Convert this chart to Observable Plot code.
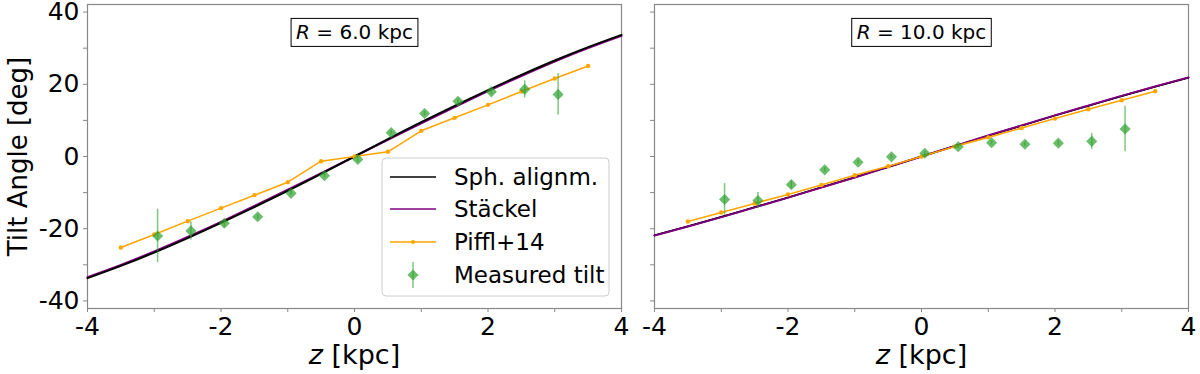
<!DOCTYPE html>
<html>
<head>
<meta charset="utf-8">
<script src="https://cdn.jsdelivr.net/npm/d3@7"></script>
<script src="https://cdn.jsdelivr.net/npm/@observablehq/plot@0.6"></script>
<style>
  html, body { margin: 0; padding: 0; background: white; }
  #wrap { position: relative; width: 1200px; height: 374px; overflow: hidden; }
  #wrap svg { position: absolute; top: 0; }
</style>
</head>
<body>
<div id="wrap"></div>
<script>
// ---------- data ----------
const panelTitles = ["R = 6.0 kpc", "R = 10.0 kpc"];
const seriesNames = ["Sph. alignm.", "Stäckel", "Piffl+14", "Measured tilt"];
const xLabel = "z [kpc]";
const yLabel = "Tilt Angle [deg]";

const xTicks = [-4, -3, -2, -1, 0, 1, 2, 3, 4];
const xTickLabels = ["-4", "", "-2", "", "0", "", "2", "", "4"];
const yTicks = [-40, -30, -20, -10, 0, 10, 20, 30, 40];
const yTickLabels = ["-40", "", "-20", "", "0", "", "20", "", "40"];

// model curves sampled every 0.5 kpc
const zCurve = [-4, -3.5, -3, -2.5, -2, -1.5, -1, -0.5, 0, 0.5, 1, 1.5, 2, 2.5, 3, 3.5, 4];
const sphR6 = [-33.7, -30.3, -26.6, -22.6, -18.4, -14.0, -9.5, -4.8, 0, 4.8, 9.5, 14.0, 18.4, 22.6, 26.6, 30.3, 33.7];
const stackelR6 = [-33.4, -30.0, -26.3, -22.3, -18.1, -13.7, -9.2, -4.6, 0, 4.6, 9.2, 13.7, 18.1, 22.3, 26.3, 30.0, 33.4];
const sphR10 = [-21.8, -19.3, -16.7, -14.0, -11.3, -8.5, -5.7, -2.9, 0, 2.9, 5.7, 8.5, 11.3, 14.0, 16.7, 19.3, 21.8];
const stackelR10 = [-21.9, -19.4, -16.8, -14.1, -11.4, -8.6, -5.8, -2.9, 0, 2.9, 5.8, 8.6, 11.4, 14.1, 16.8, 19.4, 21.9];

// Piffl+14
const zPiffl = [-3.5, -3, -2.5, -2, -1.5, -1, -0.5, 0, 0.5, 1, 1.5, 2, 2.5, 3, 3.5];
const pifflR6 = [-25.2, -21.6, -17.9, -14.3, -10.7, -7.1, -1.3, 0, 1.3, 7.1, 10.7, 14.3, 18.0, 21.6, 25.1];
const pifflR10 = [-18.0, -15.5, -13.0, -10.5, -7.9, -5.2, -2.7, 0, 2.8, 5.3, 7.9, 10.5, 13.1, 15.6, 18.1];

// measured tilt with errors
const zMeasured = [-2.95, -2.45, -1.95, -1.45, -0.95, -0.45, 0.05, 0.55, 1.05, 1.55, 2.05, 2.55, 3.05];
const tiltR6 = [-22.0, -20.6, -18.5, -16.7, -10.2, -5.3, -0.8, 6.6, 11.9, 15.3, 17.9, 18.6, 17.2];
const errR6 = [7.4, 2.5, 1.0, 0.6, 0.6, 0.6, 0.7, 0.6, 0.6, 0.6, 0.7, 2.4, 5.8];
const tiltR10 = [-11.9, -12.2, -7.8, -3.7, -1.6, -0.1, 0.9, 2.7, 3.8, 3.4, 3.7, 4.2, 7.6];
const errR10 = [4.4, 2.2, 1.0, 0.6, 0.5, 0.5, 0.5, 0.5, 0.6, 0.6, 0.7, 2.2, 6.3];

// ---------- styling ----------
const FONT = "DejaVu Sans";
const GREEN = "#2ca02c";
const ORANGE = "#ffa500";
const PURPLE = "#800080";
const FRAMEC = "#888888";

function makePanel(opts) {
  const curve = zCurve.map((z, i) => ({z, sph: opts.sph[i], st: opts.st[i]}));
  const piffl = zPiffl.map((z, i) => ({z, v: opts.piffl[i]}));
  const meas = zMeasured.map((z, i) => ({z, v: opts.tilt[i], e: opts.err[i]}));
  const marks = [
    Plot.frame({stroke: FRAMEC, strokeWidth: 1.2}),
    Plot.axisX({ticks: xTicks, tickFormat: d => xTickLabels[xTicks.indexOf(d)], tickSize: 4, tickPadding: 5,
      fontSize: 25, stroke: FRAMEC, fill: "black", label: null}),
    Plot.axisY({ticks: yTicks, tickFormat: d => opts.showY ? yTickLabels[yTicks.indexOf(d)] : "", tickSize: 4, tickPadding: 4,
      fontSize: 25, stroke: FRAMEC, fill: "black", label: null}),
    Plot.line(curve, {x: "z", y: "st", stroke: PURPLE, strokeWidth: 2, curve: "natural"}),
    Plot.line(curve, {x: "z", y: "sph", stroke: "black", strokeWidth: opts.showY ? 2 : 1.4, curve: "natural"}),
    ...(opts.showY ? [] : [Plot.line(curve, {x: "z", y: "st", stroke: PURPLE, strokeWidth: 1.6, curve: "natural"})]),
    Plot.line(piffl, {x: "z", y: "v", stroke: ORANGE, strokeWidth: 1.6}),
    Plot.dot(piffl, {x: "z", y: "v", fill: ORANGE, r: 2.2}),
    Plot.ruleX(meas, {x: "z", y1: d => d.v - d.e, y2: d => d.v + d.e, stroke: GREEN, strokeOpacity: 0.6, strokeWidth: 1.5}),
    Plot.dot(meas, {x: "z", y: "v", symbol: "diamond2", r: 5, fill: GREEN, fillOpacity: 0.7}),
    Plot.text([xLabel], {frameAnchor: "bottom", lineAnchor: "middle", dy: 47, fontSize: 27, fill: "black"}),
    Plot.text([opts.title], {frameAnchor: "top", lineAnchor: "middle", dy: 28.5, fontSize: 20, fill: "black"})
  ];
  if (opts.showY) {
    marks.push(Plot.text([yLabel], {frameAnchor: "left", textAnchor: "middle", rotate: -90, dx: -69, fontSize: 26, fill: "black"}));
  }
  return Plot.plot({
    width: opts.width, height: 374,
    marginLeft: opts.ml, marginRight: opts.mr, marginTop: 4, marginBottom: 66,
    x: {domain: [-4, 4]},
    y: {domain: [-42.1, 42.1]},
    style: {fontFamily: FONT, background: "white", overflow: "visible"},
    marks
  });
}

const wrap = document.getElementById("wrap");
const left = makePanel({width: 630, ml: 87, mr: 9, title: panelTitles[0], sph: sphR6, st: stackelR6,
  piffl: pifflR6, tilt: tiltR6, err: errR6, showY: true});
const right = makePanel({width: 570, ml: 24, mr: 12, title: panelTitles[1], sph: sphR10, st: stackelR10,
  piffl: pifflR10, tilt: tiltR10, err: errR10, showY: false});
left.style.left = "0px";
right.style.left = "630px";
wrap.appendChild(left);
wrap.appendChild(right);

// italic math symbols in labels, box around panel titles
function styleTexts(svg) {
  d3.select(svg).selectAll("text").each(function () {
    const t = this.textContent;
    const sel = d3.select(this);
    if (t === xLabel) {
      sel.text(null);
      sel.append("tspan").attr("font-style", "italic").text("z");
      sel.append("tspan").text(" [kpc]");
    } else if (panelTitles.includes(t)) {
      sel.text(null);
      sel.append("tspan").attr("font-style", "italic").text("R");
      sel.append("tspan").text(t.slice(1));
      const bb = this.getBBox();
      const ms = svg.getScreenCTM();
      const me = this.getScreenCTM();
      const rel = ms.inverse().multiply(me);
      const p = svg.createSVGPoint();
      p.x = bb.x; p.y = bb.y;
      const q = p.matrixTransform(rel);
      d3.select(svg).append("rect")
        .attr("x", q.x - 5).attr("y", q.y - 2)
        .attr("width", bb.width + 10).attr("height", bb.height + 4)
        .attr("fill", "none").attr("stroke", "black").attr("stroke-width", 1);
    }
  });
}
styleTexts(left);
styleTexts(right);

// legend inside the left panel
const lg = d3.select(left).append("g").attr("font-family", FONT).attr("font-size", 23).attr("text-anchor", "start");
lg.append("rect").attr("x", 382).attr("y", 158).attr("width", 227).attr("height", 138)
  .attr("rx", 4).attr("fill", "white").attr("fill-opacity", 0.85).attr("stroke", "#cccccc").attr("stroke-width", 1);
const rowsY = [177, 209, 242, 275];
const lx1 = 390, lx2 = 436, tx = 454;
lg.append("line").attr("x1", lx1).attr("x2", lx2).attr("y1", rowsY[0]).attr("y2", rowsY[0]).attr("stroke", "black").attr("stroke-width", 1.5);
lg.append("line").attr("x1", lx1).attr("x2", lx2).attr("y1", rowsY[1]).attr("y2", rowsY[1]).attr("stroke", PURPLE).attr("stroke-width", 1.5);
lg.append("line").attr("x1", lx1).attr("x2", lx2).attr("y1", rowsY[2]).attr("y2", rowsY[2]).attr("stroke", ORANGE).attr("stroke-width", 1.5);
lg.append("circle").attr("cx", (lx1 + lx2) / 2).attr("cy", rowsY[2]).attr("r", 2).attr("fill", ORANGE);
lg.append("line").attr("x1", (lx1 + lx2) / 2).attr("x2", (lx1 + lx2) / 2).attr("y1", rowsY[3] - 13).attr("y2", rowsY[3] + 13)
  .attr("stroke", GREEN).attr("stroke-opacity", 0.6).attr("stroke-width", 1.5);
lg.append("path").attr("d", d3.symbol(d3.symbolDiamond2, Math.PI * 25)())
  .attr("transform", `translate(${(lx1 + lx2) / 2},${rowsY[3]})`).attr("fill", GREEN).attr("fill-opacity", 0.7);
seriesNames.forEach((s, i) => {
  lg.append("text").attr("x", tx).attr("y", rowsY[i]).attr("dy", "0.35em").attr("fill", "black").attr("text-anchor", "start").text(s);
});
</script>
</body>
</html>
